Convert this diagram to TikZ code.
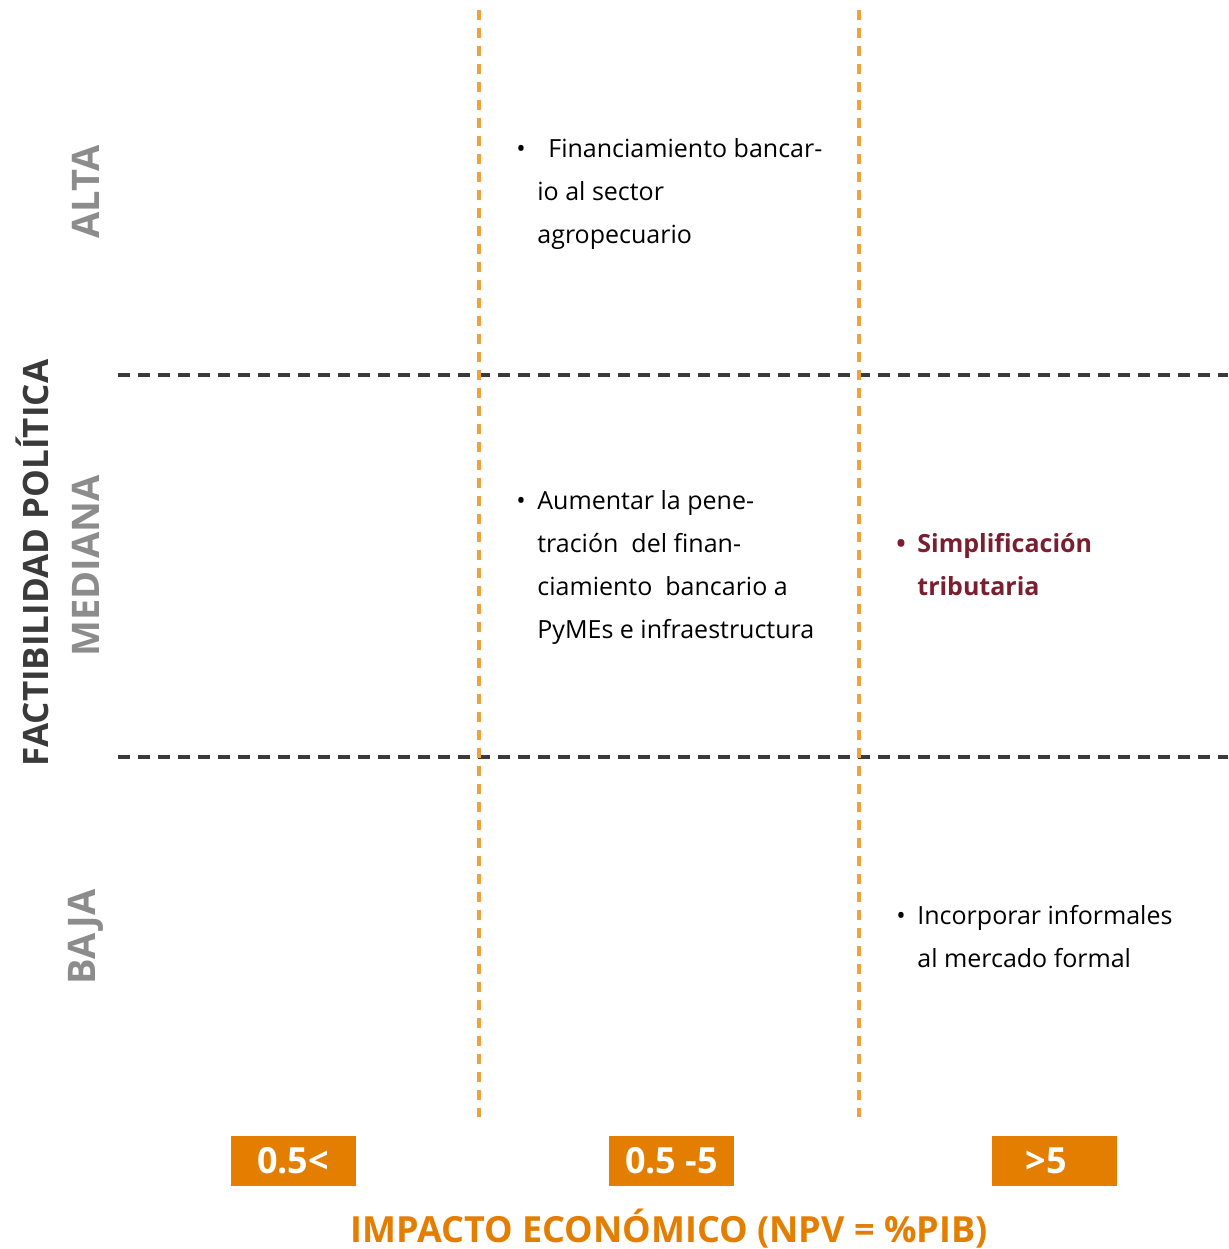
\documentclass[tikz,border=0pt]{standalone}
\usepackage{fontspec}
\setmainfont{Open Sans}
\usetikzlibrary{positioning}

\definecolor{naranja}{HTML}{E37E00}
\definecolor{naranjaclaro}{HTML}{EFA13C}
\definecolor{gris}{HTML}{8C8C8C}
\definecolor{oscuro}{HTML}{3A3A3A}
\definecolor{vino}{HTML}{7B1E30}

\begin{document}
\begin{tikzpicture}[x=0.5pt, y=-0.5pt,
    hline/.style={draw=oscuro, line width=2pt, dash pattern=on 6pt off 4pt},
    vline/.style={draw=naranjaclaro, line width=1.6pt, dash pattern=on 5pt off 4pt},
    nivel/.style={rotate=90, text=gris, font=\fontsize{19}{22}\selectfont\bfseries},
    rango/.style={fill=naranja, text=white, minimum width=62.5pt, minimum height=25pt, inner sep=0pt, font=\fontsize{18}{20}\selectfont\bfseries},
    celda/.style={anchor=base west, align=left, inner sep=0pt, font=\fontsize{12.5}{21.5}\selectfont},
    punto/.style={anchor=base, inner sep=0pt, font=\fontsize{12.5}{21.5}\selectfont}]
    \useasboundingbox (0,0) rectangle (1228,1249);

    % lineas de la grilla
    \coordinate (h1l) at (118,375);
    \coordinate (h1r) at (1228,375);
    \coordinate (h2l) at (118,757);
    \coordinate (h2r) at (1228,757);
    \coordinate (v1t) at (479,10);
    \coordinate (v1b) at (479,1117);
    \coordinate (v2t) at (859,10);
    \coordinate (v2b) at (859,1117);

    \draw[hline] (h1l) -- (h1r);
    \draw[hline] (h2l) -- (h2r);
    \draw[vline] (v1t) -- (v1b);
    \draw[vline] (v2t) -- (v2b);

    % ejes
    \node[rotate=90, text=oscuro, font=\fontsize{17.5}{20}\selectfont\bfseries] (eje) at (32,563) {FACTIBILIDAD POLÍTICA};
    \node[nivel] (alta) at (86,192) {ALTA};
    \node[nivel] (mediana) at (86,566) {MEDIANA};
    \node[nivel] (baja) at (86,937) {BAJA};

    \node[rango] (r1) at (293,1161) {0.5<};
    \node[rango] (r2) at (671.5,1161) {0.5 -5};
    \node[rango] (r3) at (1054.5,1161) {\hspace*{-8pt}>5};
    \node[text=naranja, font=\fontsize{18}{20}\selectfont\bfseries] (impacto) at (669,1229) {IMPACTO ECONÓMICO (NPV = \%PIB)};

    % medidas (base = ultima linea)
    \node[punto] (b1) at (521,157) {•};
    \node[celda] (t1) at (537,243) {\hspace{5.5pt}Financiamiento bancar-\\io al sector\\agropecuario};
    \node[punto] (b2) at (521,509) {•};
    \node[celda] (t2) at (537,638) {Aumentar la pene-\\tración\ \ del finan-\\ciamiento\ \ bancario a\\PyMEs e infraestructura};
    \node[punto, text=vino, font=\fontsize{12.5}{21.5}\selectfont\bfseries] (b3) at (901,552) {•};
    \node[celda, text=vino, font=\fontsize{12.5}{21.5}\selectfont\bfseries] (t3) at (917,595) {Simplificación\\tributaria};
    \node[punto] (b4) at (901,924) {•};
    \node[celda] (t4) at (917,967) {Incorporar informales\\al mercado formal};
\end{tikzpicture}
\end{document}
